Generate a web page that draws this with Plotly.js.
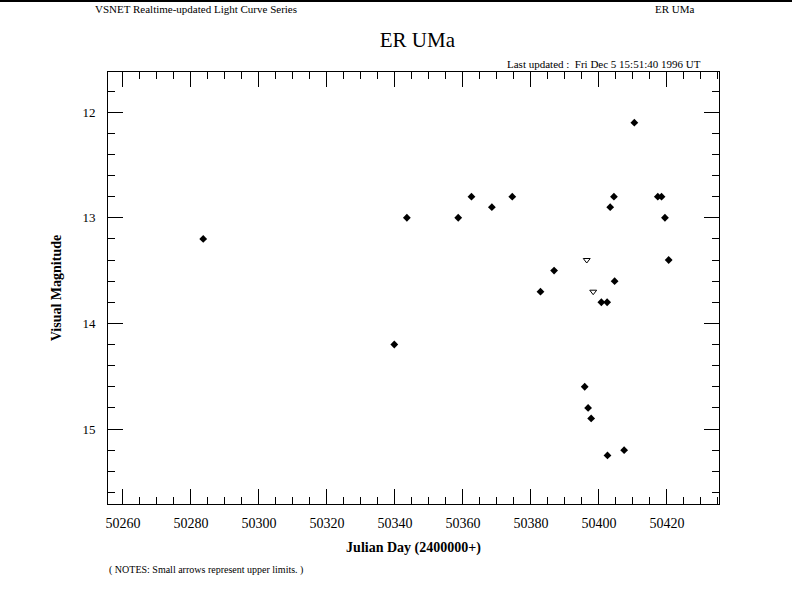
<!DOCTYPE html>
<html>
<head>
<meta charset="utf-8">
<script src="https://cdn.plot.ly/plotly-3.0.1.min.js"></script>
<style>
  html, body { margin: 0; padding: 0; background: #fff; }
  #chart { width: 792px; height: 612px; }
  #topline { position: absolute; left: 0; top: 0; width: 792px; height: 2px; background: #000; }
</style>
</head>
<body>
<div id="chart"></div>
<div id="topline"></div>
<script>
// Observations (Julian Day - 2400000, visual magnitude)
const detJD = [50283.6, 50339.8, 50343.5, 50358.6, 50362.5, 50368.5, 50374.5, 50382.8,
               50386.8, 50395.8, 50396.8, 50397.7, 50400.7, 50402.4, 50402.5, 50403.3,
               50404.4, 50404.6, 50407.4, 50410.4, 50417.3, 50418.4, 50419.4, 50420.5];
const detMag = [13.2, 14.2, 13.0, 13.0, 12.8, 12.9, 12.8, 13.7,
                13.5, 14.6, 14.8, 14.9, 13.8, 13.8, 15.25, 12.9,
                12.8, 13.6, 15.2, 12.1, 12.8, 12.8, 13.0, 13.4];
// Upper limits (fainter-than)
const limJD = [50396.4, 50398.3];
const limMag = [13.4, 13.7];

const xTickVals = [50260, 50280, 50300, 50320, 50340, 50360, 50380, 50400, 50420];
const yTickVals = [12, 13, 14, 15];

const serif = "'Liberation Serif', 'DejaVu Serif', serif";

const traces = [
  {
    x: detJD, y: detMag, type: 'scatter', mode: 'markers', name: 'Observation',
    marker: { symbol: 'diamond', size: 6, color: '#000' }
  },
  {
    x: limJD, y: limMag, type: 'scatter', mode: 'markers', name: 'Upper limit',
    marker: { symbol: 'triangle-down-open', size: 6, color: '#000', line: { width: 1, color: '#000' } }
  }
];

const L = 108, R = 719, T = 72, B = 504;
const px = v => (v - L) / (R - L);
const py = v => (B - v) / (B - T);

const layout = {
  width: 792, height: 612,
  margin: { l: L, r: 792 - R, t: T, b: 612 - B, pad: 0 },
  paper_bgcolor: '#fff', plot_bgcolor: '#fff',
  showlegend: false,
  font: { family: serif, color: '#000' },
  title: {
    text: 'ER UMa', font: { family: serif, size: 21, color: '#000' },
    x: 401 / 792, xanchor: 'center', y: 1 - 40 / 612, yanchor: 'middle', xref: 'paper'
  },
  xaxis: {
    range: [50255.6, 50435.3],
    tickvals: xTickVals, ticktext: xTickVals.map(String),
    ticks: 'inside', ticklen: 15, tickwidth: 1, tickcolor: '#000',
    minor: { dtick: 5, tick0: 50260, ticks: 'inside', ticklen: 7, tickwidth: 1, tickcolor: '#000' },
    showline: true, linecolor: '#000', linewidth: 1, mirror: 'allticks',
    showgrid: false, zeroline: false,
    tickfont: { family: serif, size: 14, color: '#000' },
    ticklabelstandoff: 6,
    title: { text: '<b>Julian Day (2400000+)</b>', font: { family: serif, size: 14, color: '#000' }, standoff: 12 }
  },
  yaxis: {
    range: [15.71, 11.62],
    tickvals: yTickVals, ticktext: yTickVals.map(String),
    ticks: 'inside', ticklen: 15, tickwidth: 1, tickcolor: '#000',
    minor: { dtick: 0.2, tick0: 12, ticks: 'inside', ticklen: 7, tickwidth: 1, tickcolor: '#000' },
    showline: true, linecolor: '#000', linewidth: 1, mirror: 'allticks',
    showgrid: false, zeroline: false,
    tickfont: { family: serif, size: 13, color: '#000' },
    ticklabelstandoff: 9,
    title: { text: '<b>Visual Magnitude</b>', font: { family: serif, size: 14, color: '#000' }, standoff: 17 }
  },
  annotations: [
    { text: 'VSNET Realtime-updated Light Curve Series', xref: 'paper', yref: 'paper',
      x: px(93), y: py(9), xanchor: 'left', yanchor: 'middle', showarrow: false,
      font: { family: serif, size: 11, color: '#000' } },
    { text: 'ER UMa', xref: 'paper', yref: 'paper',
      x: px(697), y: py(9), xanchor: 'right', yanchor: 'middle', showarrow: false,
      font: { family: serif, size: 11, color: '#000' } },
    { text: 'Last updated :  Fri Dec 5 15:51:40 1996 UT', xref: 'paper', yref: 'paper',
      x: px(703), y: py(64), xanchor: 'right', yanchor: 'middle', showarrow: false,
      font: { family: serif, size: 11, color: '#000' } },
    { text: '( NOTES: Small arrows represent upper limits. )', xref: 'paper', yref: 'paper',
      x: px(107), y: py(570), xanchor: 'left', yanchor: 'middle', showarrow: false,
      font: { family: serif, size: 10, color: '#000' } }
  ]
};

Plotly.newPlot('chart', traces, layout, { displayModeBar: false, staticPlot: true });
</script>
</body>
</html>
